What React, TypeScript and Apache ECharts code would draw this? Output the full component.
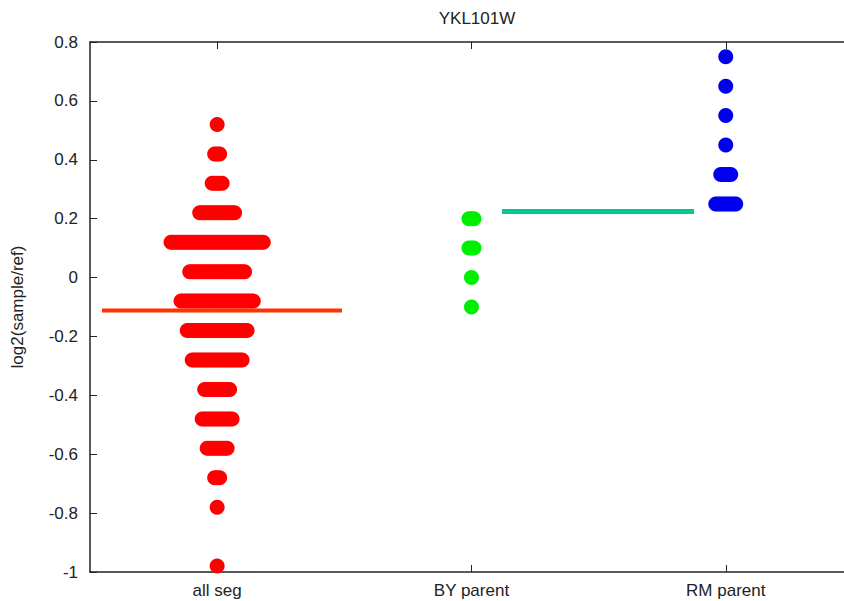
import React, { useEffect, useRef } from "react";
import * as echarts from "echarts";

const title = "YKL101W";
const yAxisName = "log2(sample/ref)";
const categories = ["all seg", "BY parent", "RM parent"];
const categoryPositions = [1, 2, 3];

// rows of the swarm: value and number of points sharing it
const allSegValues = [0.52, 0.42, 0.32, 0.22, 0.12, 0.02, -0.08, -0.18, -0.28, -0.38, -0.48, -0.58, -0.68, -0.78, -0.98];
const allSegCounts = [1, 3, 5, 15, 38, 23, 30, 25, 21, 11, 13, 9, 3, 1, 1];
const byValues = [0.2, 0.1, 0, -0.1];
const byCounts = [3, 3, 1, 1];
const rmValues = [0.75, 0.65, 0.55, 0.45, 0.35, 0.25];
const rmCounts = [1, 1, 1, 1, 5, 9];

// horizontal mean lines: [value, xStart, xEnd] in axis units
const allSegMean = [-0.112, 0.547, 1.491];
const rmMean = [0.224, 2.12, 2.875];

const yTicks = [0.8, 0.6, 0.4, 0.2, 0, -0.2, -0.4, -0.6, -0.8, -1];

const X_MIN = 0.5;
const X_MAX = 3.465;
const STEP = 0.0098;

function swarm(center: number, values: number[], counts: number[]) {
  const pts: number[][] = [];
  values.forEach((v, r) => {
    const n = counts[r];
    for (let i = 0; i < n; i++) {
      pts.push([center + (i - (n - 1) / 2) * STEP, v]);
    }
  });
  return pts;
}

export default function App() {
  const ref = useRef<HTMLDivElement>(null);
  useEffect(() => {
    if (!ref.current) return;
    const chart = echarts.init(ref.current, null, { renderer: "svg" });
    const font = "'Liberation Sans', Arial, Helvetica, sans-serif";
    const txt = { color: "#222", fontFamily: font, fontSize: 17 };
    const frame = { show: true, onZero: false, lineStyle: { color: "#222", width: 1.5 } };
    const tick = {
      show: true,
      inside: true,
      length: 7,
      lineStyle: { color: "#222", width: 1 },
    };
    chart.setOption({
      animation: false,
      title: {
        text: title,
        left: 472,
        top: 5,
        textAlign: "center",
        textStyle: { ...txt, fontWeight: "normal" },
      },
      grid: {
        left: 90,
        top: 42,
        bottom: 29,
        right: 0,
        show: false,
      },
      xAxis: [
        {
          type: "value",
          position: "bottom",
          min: X_MIN,
          max: X_MAX,
          splitLine: { show: false },
          axisLine: frame,
          axisTick: { ...tick, customValues: categoryPositions },
          axisLabel: {
            show: true,
            margin: 10,
            customValues: categoryPositions,
            formatter: (v: number) => categories[categoryPositions.indexOf(Math.round(v))] ?? "",
            ...txt,
          },
        },
        {
          type: "value",
          position: "top",
          min: X_MIN,
          max: X_MAX,
          splitLine: { show: false },
          axisLine: frame,
          axisTick: { ...tick, customValues: categoryPositions },
          axisLabel: { show: false, customValues: categoryPositions },
        },
      ],
      yAxis: {
        type: "value",
        min: -1,
        max: 0.8,
        interval: 0.2,
        name: yAxisName,
        nameLocation: "middle",
        nameGap: 64,
        nameTextStyle: { ...txt },
        splitLine: { show: false },
        axisLine: frame,
        axisTick: tick,
        axisLabel: {
          margin: 12,
          ...txt,
          formatter: (v: number) => {
            const t = yTicks.find((y) => Math.abs(y - v) < 1e-6);
            return String(t ?? Math.round(v * 10) / 10);
          },
        },
      },
      series: [
        {
          type: "scatter",
          symbol: "circle",
          symbolSize: 15,
          itemStyle: { color: "#ff0000", opacity: 1 },
          data: swarm(categoryPositions[0], allSegValues, allSegCounts),
          z: 2,
        },
        {
          type: "scatter",
          symbol: "circle",
          symbolSize: 15,
          itemStyle: { color: "#00ee00", opacity: 1 },
          data: swarm(categoryPositions[1], byValues, byCounts),
          z: 2,
        },
        {
          type: "scatter",
          symbol: "circle",
          symbolSize: 15,
          itemStyle: { color: "#0000ee", opacity: 1 },
          data: swarm(categoryPositions[2], rmValues, rmCounts),
          z: 2,
        },
        {
          type: "line",
          data: [
            [allSegMean[1], allSegMean[0]],
            [allSegMean[2], allSegMean[0]],
          ],
          symbol: "none",
          lineStyle: { color: "#ff3300", width: 4 },
          z: 3,
        },
        {
          type: "line",
          data: [
            [rmMean[1], rmMean[0]],
            [rmMean[2], rmMean[0]],
          ],
          symbol: "none",
          lineStyle: { color: "#00c896", width: 5 },
          z: 3,
        },
      ],
    });
    return () => chart.dispose();
  }, []);
  return (
    <div
      ref={ref}
      style={{ position: "fixed", left: 0, top: 0, width: 844, height: 601, background: "#fff" }}
    />
  );
}
